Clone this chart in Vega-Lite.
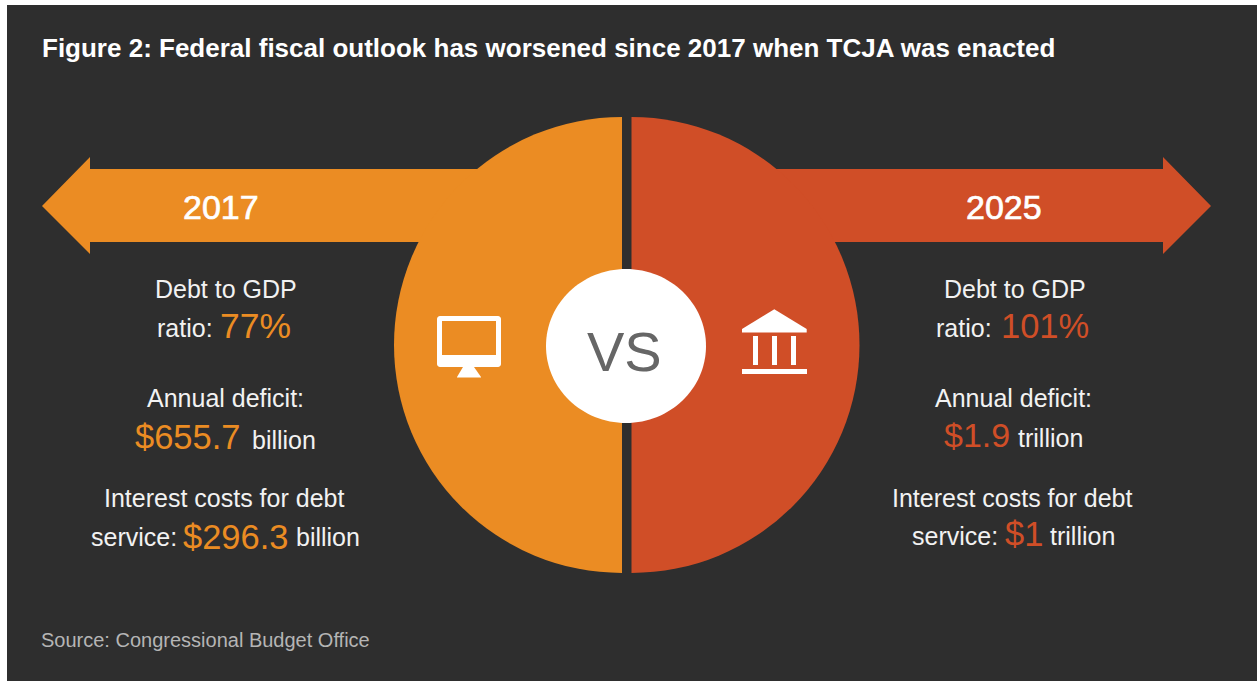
{"$schema":"https://vega.github.io/schema/vega-lite/v6.json","width":1257,"height":681,"autosize":{"type":"fit","contains":"padding"},"padding":0,"background":"#ffffff","view":{"stroke":null},
"datasets":{
"rects":[{"name":"panel","x":7,"x2":1257,"y":5,"y2":681,"c":"#2e2e2e"}],
"arrows":[
{"s":"2017","x":42,"y":206,"y2":206,"c":"#eb8c23"},{"s":"2017","x":90,"y":157,"y2":254,"c":"#eb8c23"},{"s":"2017","x":90,"y":169,"y2":242,"c":"#eb8c23"},{"s":"2017","x":560,"y":169,"y2":242,"c":"#eb8c23"},
{"s":"2025","x":700,"y":169,"y2":242,"c":"#d04e27"},{"s":"2025","x":1163,"y":169,"y2":242,"c":"#d04e27"},{"s":"2025","x":1163,"y":157,"y2":254,"c":"#d04e27"},{"s":"2025","x":1211,"y":206,"y2":206,"c":"#d04e27"}],
"arcs":[
{"name":"2017 half","x":622,"y":345,"r":228,"t0":3.14159265,"t1":6.2831853,"c":"#eb8c23"},
{"name":"2025 half","x":631.5,"y":345,"r":228,"t0":0,"t1":3.14159265,"c":"#d04e27"}],
"vsDisc":[{"name":"vs","x":626,"y":346,"a":25600,"c":"#ffffff"}],
"iconRects":[
{"name":"monitor","x":437,"x2":501,"y":316,"y2":367,"c":"#ffffff"}],
"iconFlat":[
{"name":"screen","x":442,"x2":496,"y":321,"y2":355,"c":"#eb8c23"},
{"name":"col1","x":753,"x2":758,"y":336,"y2":365,"c":"#ffffff"},
{"name":"col2","x":772,"x2":777,"y":336,"y2":365,"c":"#ffffff"},
{"name":"col3","x":791,"x2":796,"y":336,"y2":365,"c":"#ffffff"},
{"name":"base","x":742,"x2":807,"y":369,"y2":374,"c":"#ffffff"}],
"iconAreas":[
{"s":"stand","x":457,"y":377,"y2":377.4},{"s":"stand","x":463,"y":367,"y2":377.4},{"s":"stand","x":474,"y":367,"y2":377.4},{"s":"stand","x":481,"y":377,"y2":377.4},
{"s":"roof","x":742,"y":329,"y2":332.5},{"s":"roof","x":774.3,"y":309.3,"y2":332.5},{"s":"roof","x":806.7,"y":329,"y2":332.5}],
"title":[{"x":42,"y":57,"t":"Figure 2: Federal fiscal outlook has worsened since 2017 when TCJA was enacted"}],
"years":[
{"x":183,"y":219,"t":"2017"},
{"x":966,"y":219,"t":"2025"}],
"texts":[
{"x":587,"y":371,"t":"VS","s":56,"c":"#666666"},
{"x":155,"y":298,"t":"Debt to GDP","s":25,"c":"#f2f2f2"},
{"x":157,"y":337,"t":"ratio:","s":25,"c":"#f2f2f2"},
{"x":220,"y":338,"t":"77%","s":35.5,"c":"#eb8c23"},
{"x":147,"y":407,"t":"Annual deficit:","s":25,"c":"#f2f2f2"},
{"x":135,"y":449,"t":"$655.7","s":34.5,"c":"#eb8c23"},
{"x":252,"y":449,"t":"billion","s":25,"c":"#f2f2f2"},
{"x":104,"y":507,"t":"Interest costs for debt","s":25,"c":"#f2f2f2"},
{"x":91,"y":546,"t":"service:","s":25,"c":"#f2f2f2"},
{"x":183,"y":549,"t":"$296.3","s":34.5,"c":"#eb8c23"},
{"x":296,"y":546,"t":"billion","s":25,"c":"#f2f2f2"},
{"x":944,"y":298,"t":"Debt to GDP","s":25,"c":"#f2f2f2"},
{"x":936,"y":337,"t":"ratio:","s":25,"c":"#f2f2f2"},
{"x":1001,"y":338,"t":"101%","s":34.5,"c":"#d04e27"},
{"x":935,"y":407,"t":"Annual deficit:","s":25,"c":"#f2f2f2"},
{"x":944,"y":447,"t":"$1.9","s":34,"c":"#d04e27"},
{"x":1018,"y":447,"t":"trillion","s":25,"c":"#f2f2f2"},
{"x":892,"y":507,"t":"Interest costs for debt","s":25,"c":"#f2f2f2"},
{"x":912,"y":545,"t":"service:","s":25,"c":"#f2f2f2"},
{"x":1005,"y":546,"t":"$1","s":34.5,"c":"#d04e27"},
{"x":1050,"y":545,"t":"trillion","s":25,"c":"#f2f2f2"},
{"x":41,"y":647,"t":"Source: Congressional Budget Office","s":20,"c":"#b5b5b5"}]
},
"encoding":{
"x":{"field":"x","type":"quantitative","scale":{"domain":[0,1257],"nice":false,"zero":false},"axis":null},
"y":{"field":"y","type":"quantitative","scale":{"domain":[681,0],"nice":false,"zero":false},"axis":null}
},
"layer":[
{"data":{"name":"rects"},"mark":{"type":"rect"},"encoding":{"x2":{"field":"x2"},"y2":{"field":"y2"},"color":{"field":"c","type":"nominal","scale":null}}},
{"data":{"name":"arrows"},"mark":{"type":"area","interpolate":"linear","orient":"vertical"},"encoding":{"y2":{"field":"y2"},"detail":{"field":"s"},"color":{"field":"c","type":"nominal","scale":null}}},
{"data":{"name":"arcs"},"mark":{"type":"arc"},"encoding":{"radius":{"field":"r","type":"quantitative","scale":null},"theta":{"field":"t0","type":"quantitative","scale":null},"theta2":{"field":"t1"},"color":{"field":"c","type":"nominal","scale":null}}},
{"data":{"name":"vsDisc"},"mark":{"type":"point","filled":true,"opacity":1,"shape":"M-1,0A1,0.9625,0,1,1,1,0A1,0.9625,0,1,1,-1,0Z"},"encoding":{"size":{"field":"a","type":"quantitative","scale":null},"color":{"field":"c","type":"nominal","scale":null}}},
{"data":{"name":"iconRects"},"mark":{"type":"rect","cornerRadius":3},"encoding":{"x2":{"field":"x2"},"y2":{"field":"y2"},"color":{"field":"c","type":"nominal","scale":null}}},
{"data":{"name":"iconFlat"},"mark":{"type":"rect"},"encoding":{"x2":{"field":"x2"},"y2":{"field":"y2"},"color":{"field":"c","type":"nominal","scale":null}}},
{"data":{"name":"iconAreas"},"mark":{"type":"area","color":"#ffffff","orient":"vertical"},"encoding":{"y2":{"field":"y2"},"detail":{"field":"s"}}},
{"data":{"name":"texts"},"mark":{"type":"text","align":"left","baseline":"alphabetic","font":"Liberation Sans"},"encoding":{"text":{"field":"t"},"size":{"field":"s","type":"quantitative","scale":null},"color":{"field":"c","type":"nominal","scale":null}}},
{"data":{"name":"years"},"mark":{"type":"text","align":"left","baseline":"alphabetic","font":"Liberation Sans","fontSize":34,"color":"#ffffff","stroke":"#ffffff","strokeWidth":0.7},"encoding":{"text":{"field":"t"}}},
{"data":{"name":"title"},"mark":{"type":"text","align":"left","baseline":"alphabetic","font":"Liberation Sans","fontWeight":"bold","fontSize":26,"color":"#ffffff"},"encoding":{"text":{"field":"t"}}}
]}
